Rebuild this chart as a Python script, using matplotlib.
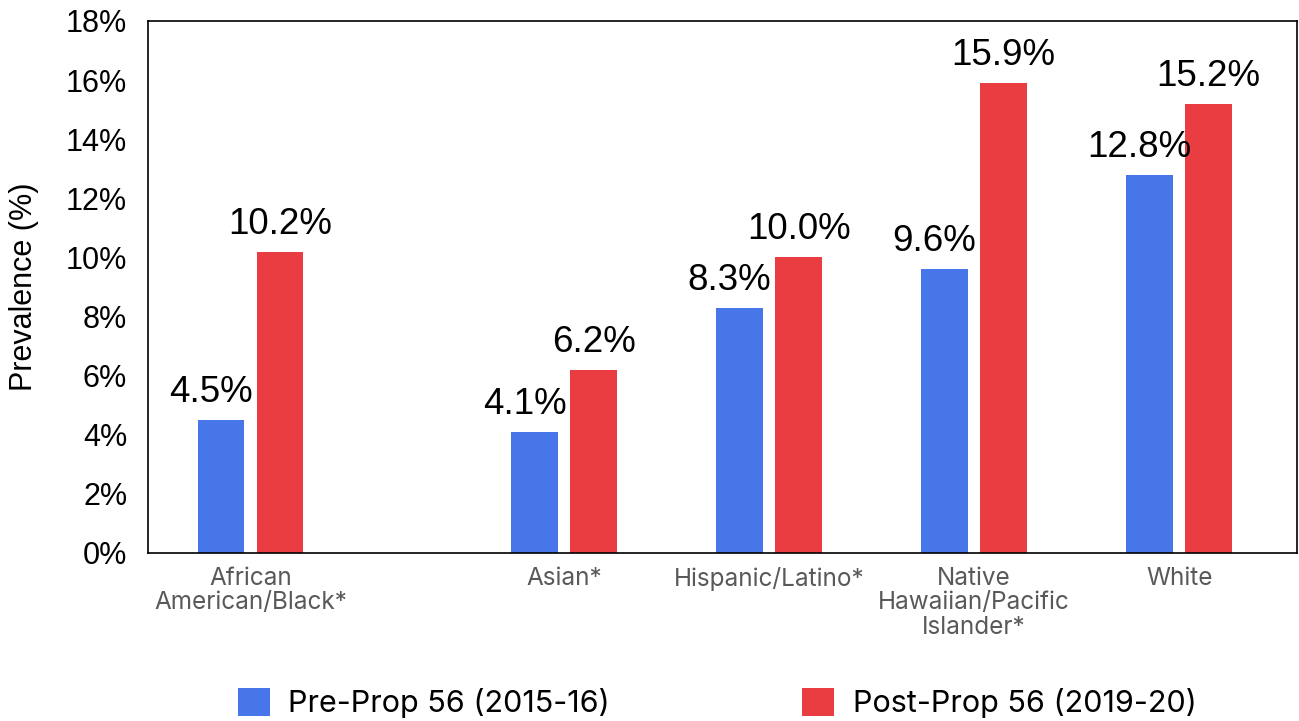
import matplotlib
matplotlib.use("Agg")
import matplotlib.pyplot as plt
from matplotlib.patches import Patch

categories = ["African\nAmerican/Black*", "Asian*", "Hispanic/Latino*",
              "Native\nHawaiian/Pacific\nIslander*", "White"]
pre_prop = [4.5, 4.1, 8.3, 9.6, 12.8]
post_prop = [10.2, 6.2, 10.0, 15.9, 15.2]
series_names = ["Pre-Prop 56 (2015-16)", "Post-Prop 56 (2019-20)"]
y_ticks = [0, 2, 4, 6, 8, 10, 12, 14, 16, 18]

BLUE = "#4776E8"
RED = "#EA3D41"
GREY = "#595959"

fig = plt.figure(figsize=(12.99, 7.21), dpi=100)
ax = fig.add_axes([148 / 1299, 1 - 553 / 721, (1297 - 148) / 1299, (553 - 21) / 721])

# group centres (wider gap after the first group)
slots = [0.0, 1.53, 2.53, 3.53, 4.53]
width = 0.227
offset = 0.144

pre_x = [s - offset for s in slots]
post_x = [s + offset for s in slots]
ax.bar(pre_x, pre_prop, width=width, color=BLUE, zorder=2)
ax.bar(post_x, post_prop, width=width, color=RED, zorder=2)

label_font = dict(family="Liberation Sans", fontsize=26.5, color="black")
for x, v in zip(pre_x, pre_prop):
    ax.annotate(f"{v:.1f}%", xy=(x, v), xytext=(-10, 18), textcoords="offset pixels",
                ha="center", va="baseline", **label_font)
for x, v in zip(post_x, post_prop):
    ax.annotate(f"{v:.1f}%", xy=(x, v), xytext=(0, 18), textcoords="offset pixels",
                ha="center", va="baseline", **label_font)

ax.set_xlim(-0.5, 5.105)
ax.set_ylim(0, 18)
ax.set_yticks(y_ticks)
ax.set_yticklabels([f"{t}%" for t in y_ticks], family="Liberation Sans", fontsize=22)
ax.tick_params(axis="y", length=0, pad=15)

ax.set_xticks(slots)
ax.set_xticklabels(categories, family="Inter", fontsize=17.5, color=GREY, linespacing=1.08)
ax.tick_params(axis="x", length=0, pad=10)

ax.set_ylabel("Prevalence (%)", family="Liberation Sans", fontsize=22, labelpad=19)

for sp in ax.spines.values():
    sp.set_color("black")
    sp.set_linewidth(1.2)

handles = [Patch(facecolor=BLUE, edgecolor="none"), Patch(facecolor=RED, edgecolor="none")]
fig.legend(handles, series_names, loc="center", bbox_to_anchor=(717 / 1299, 1 - 703 / 721),
           ncol=2, frameon=False, prop=dict(family="Inter", size=22),
           handlelength=1.05, handleheight=1.05, handletextpad=0.6, columnspacing=6.3,
           borderpad=0, borderaxespad=0)

fig.savefig("out.png", dpi=100)
